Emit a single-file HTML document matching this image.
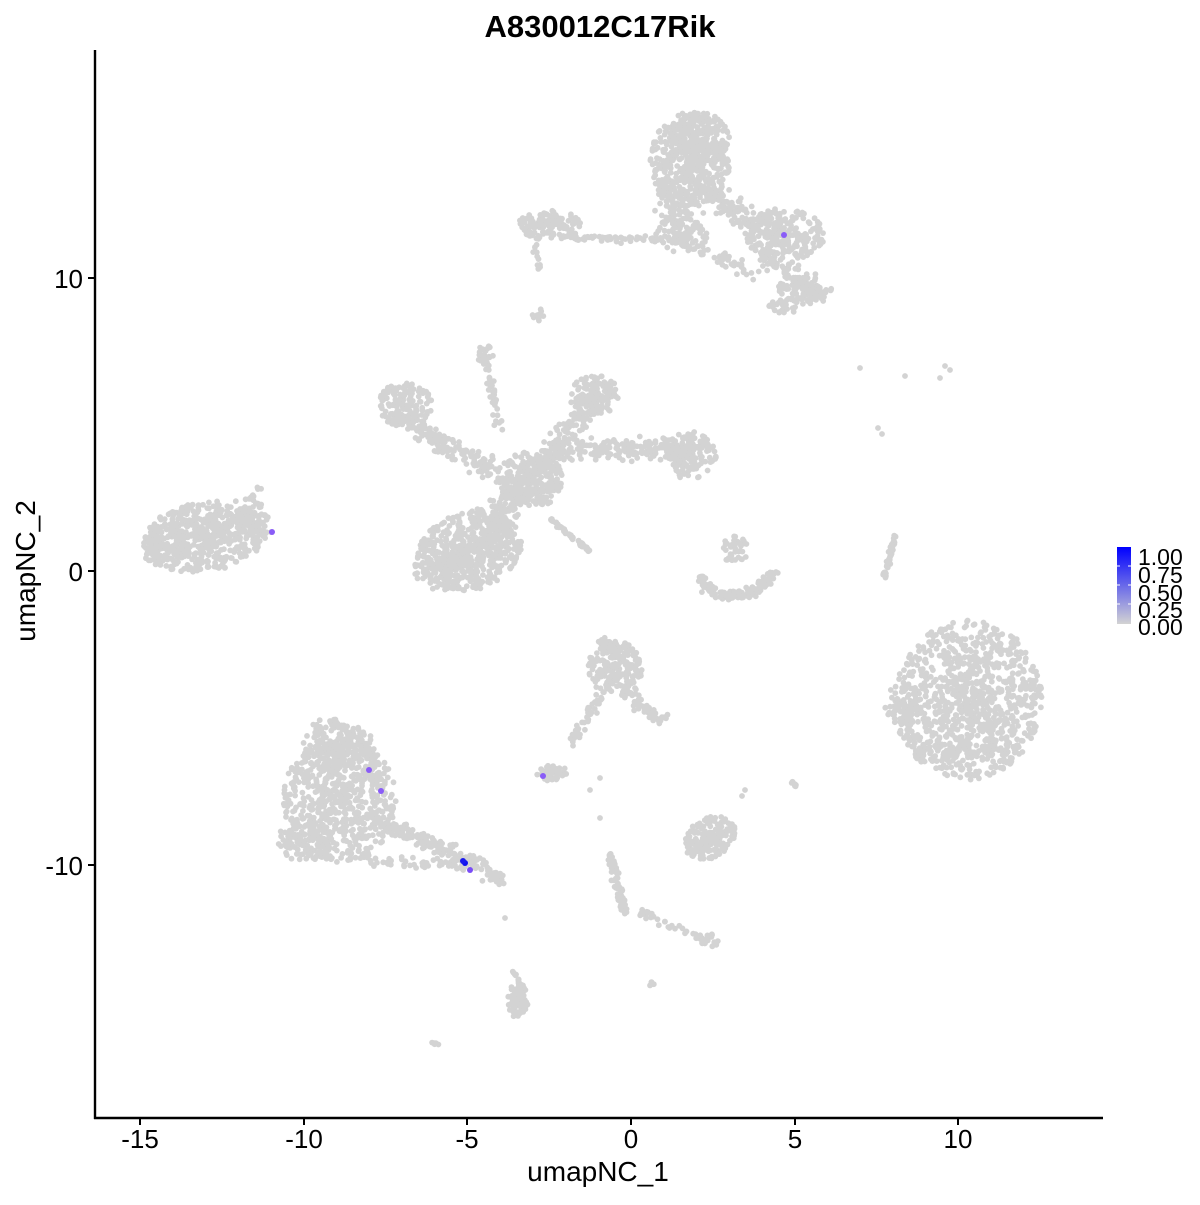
<!DOCTYPE html>
<html><head><meta charset="utf-8"><style>
html,body{margin:0;padding:0;background:#fff;}
svg text{font-family:"Liberation Sans",sans-serif;}
</style></head><body>
<svg id="s" width="1200" height="1200" viewBox="0 0 1200 1200" xmlns="http://www.w3.org/2000/svg">
<defs><linearGradient id="g" x1="0" y1="1" x2="0" y2="0"><stop offset="0" stop-color="#d3d3d3"/><stop offset="1" stop-color="#0000ff"/></linearGradient></defs>
<rect width="1200" height="1200" fill="#fff"/>
<g id="pts" fill="#d3d3d3"></g>
<g id="hi"></g>
<line x1="95" y1="50" x2="95" y2="1119" stroke="#000" stroke-width="2.4"/>
<line x1="94" y1="1118" x2="1103" y2="1118" stroke="#000" stroke-width="2.4"/>
<g stroke="#000" stroke-width="2">
<line x1="88" y1="278" x2="95" y2="278"/><line x1="88" y1="571" x2="95" y2="571"/><line x1="88" y1="865" x2="95" y2="865"/>
<line x1="140" y1="1118" x2="140" y2="1125"/><line x1="304" y1="1118" x2="304" y2="1125"/><line x1="467" y1="1118" x2="467" y2="1125"/><line x1="631" y1="1118" x2="631" y2="1125"/><line x1="795" y1="1118" x2="795" y2="1125"/><line x1="958" y1="1118" x2="958" y2="1125"/>
</g>
<g font-size="26" fill="#000" text-anchor="end">
<text x="83" y="288">10</text><text x="83" y="581">0</text><text x="83" y="875">-10</text>
</g>
<g font-size="26" fill="#000" text-anchor="middle">
<text x="140" y="1148">-15</text><text x="304" y="1148">-10</text><text x="467" y="1148">-5</text><text x="631" y="1148">0</text><text x="795" y="1148">5</text><text x="958" y="1148">10</text>
</g>
<text x="598" y="1181" font-size="28" text-anchor="middle">umapNC_1</text>
<text transform="translate(35,571) rotate(-90)" font-size="28" text-anchor="middle">umapNC_2</text>
<text x="600" y="37" font-size="31" font-weight="bold" text-anchor="middle">A830012C17Rik</text>
<rect x="1117" y="547" width="14" height="77" fill="url(#g)"/>
<g stroke="#fff" stroke-width="1"><line x1="1117" y1="566" x2="1120" y2="566"/><line x1="1128" y1="566" x2="1131" y2="566"/><line x1="1117" y1="585" x2="1120" y2="585"/><line x1="1128" y1="585" x2="1131" y2="585"/><line x1="1117" y1="604" x2="1120" y2="604"/><line x1="1128" y1="604" x2="1131" y2="604"/></g>
<g font-size="23" fill="#000">
<text x="1138" y="565">1.00</text><text x="1138" y="583">0.75</text><text x="1138" y="601">0.50</text><text x="1138" y="618">0.25</text><text x="1138" y="635">0.00</text>
</g>
</svg>
<script>
(function(){
var seed=12345;function r(){seed=(seed*1103515245+12345)%2147483648;return seed/2147483648;}
function gr(){return (r()+r()+r()-1.5)/1.5;}
var out=[];
function p(x,y){out.push('<circle cx="'+x.toFixed(1)+'" cy="'+y.toFixed(1)+'" r="2.9"/>');}
function ell(cx,cy,rx,ry,n,rot){rot=(rot||0)*Math.PI/180;var c=Math.cos(rot),s=Math.sin(rot);
 for(var i=0;i<n;i++){var a=r()*6.283,d=Math.pow(r(),0.6);var x=Math.cos(a)*d*rx,y=Math.sin(a)*d*ry;p(cx+x*c-y*s,cy+x*s+y*c);}}
function seg(x1,y1,x2,y2,w,n){for(var i=0;i<n;i++){var t=r();p(x1+(x2-x1)*t+gr()*w,y1+(y2-y1)*t+gr()*w);}}
// left cluster
ell(205,537,62,35,480,-8);ell(165,548,24,20,80);ell(240,520,30,20,90,-20);seg(250,500,258,488,4,10);seg(240,530,272,532,3,15);
// top right
ell(690,160,40,48,480);ell(700,135,30,22,120);ell(675,205,22,15,40);seg(690,190,790,235,20,160);ell(785,235,40,25,200);seg(760,250,820,295,14,90);ell(805,290,28,14,80);ell(785,305,16,9,30);
seg(560,238,660,240,5,60);ell(550,225,32,15,130);ell(680,235,28,17,90);ell(538,315,6,7,12);seg(535,245,540,270,4,10);seg(700,250,760,275,10,40);seg(660,180,680,240,10,40);
// middle star
ell(405,405,27,24,160);seg(400,420,490,470,16,160);seg(485,350,500,430,7,40);ell(485,355,8,10,20);
ell(595,395,24,20,130);seg(590,400,540,470,18,150);seg(560,450,700,450,18,200);ell(690,455,27,24,140);
ell(530,480,34,28,250);seg(520,480,490,540,18,160);ell(470,550,52,40,480,-15);ell(440,565,27,27,120);
seg(548,517,590,552,2.5,45);
// arc
for(var i=0;i<170;i++){var a=0.15*Math.PI+r()*0.75*Math.PI;var rr=40+gr()*9;p(735-rr*Math.cos(a)*1.0,560+rr*Math.sin(a)*0.9);}
ell(735,550,13,16,40);
// thin
seg(895,537,884,578,3,45);
// right cluster
ell(968,700,74,80,1000,10);ell(905,705,20,22,60);seg(895,690,920,760,8,30);
// center cluster
ell(615,668,27,27,200);seg(600,640,615,650,6,30);seg(625,690,665,725,10,60);seg(605,690,570,745,8,40);
ell(552,773,16,8,50);p(600,778);p(590,790);
// bottom-left
ell(340,800,57,62,620);ell(330,745,27,27,150);seg(360,730,380,790,12,60);ell(305,840,27,22,120);
seg(380,820,505,880,12,200);seg(360,860,470,865,9,60);
// others
ell(710,838,27,20,170,-30);seg(792,782,800,790,3,8);
seg(610,850,625,915,6,70);seg(640,912,705,940,5,35);ell(710,940,9,7,15);
ell(518,1000,10,18,80);seg(513,970,520,985,3,10);ell(652,983,4,3,5);ell(435,1043,4,3,5);
p(860,368);p(905,376);p(940,378);p(950,370);p(945,366);p(878,428);p(882,434);p(505,918);p(600,818);p(745,790);p(742,796);
document.getElementById('pts').innerHTML=out.join('');
var h=[[784,235,'#8a5cf7'],[272,532,'#8a5cf7'],[369,770,'#8a5cf7'],[381,791,'#8a5cf7'],[543,776,'#8a5cf7'],[470,870,'#7a4cf7'],[465,863,'#1010f0'],[463,861,'#1a1aee']];
document.getElementById('hi').innerHTML=h.map(function(q){return '<circle cx="'+q[0]+'" cy="'+q[1]+'" r="3" fill="'+q[2]+'"/>';}).join('');
})();
</script>
</body></html>
